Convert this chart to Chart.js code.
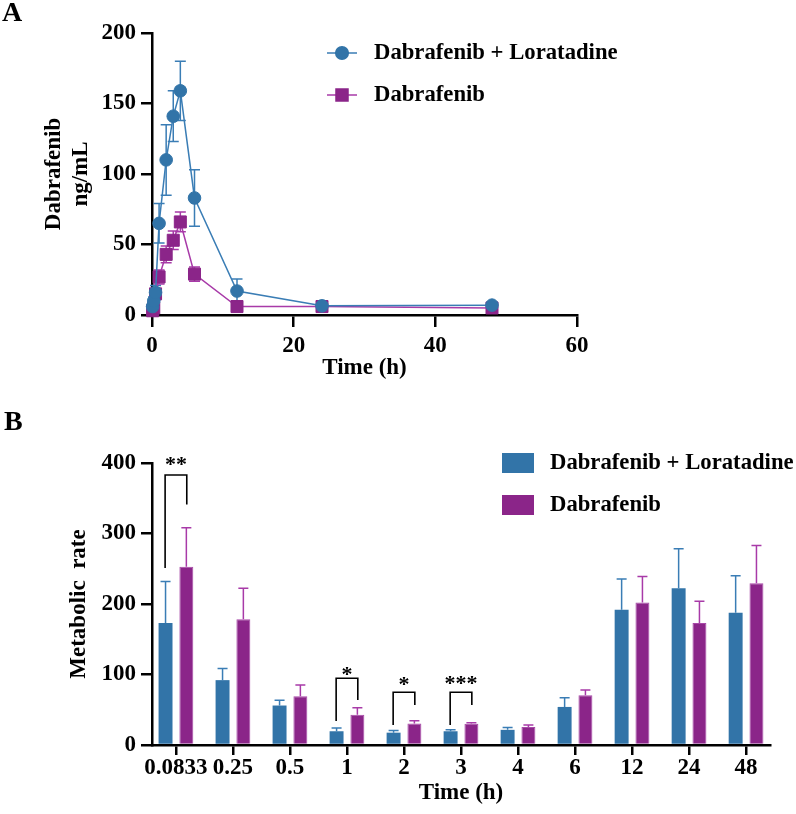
<!DOCTYPE html>
<html><head><meta charset="utf-8">
<script src="https://cdn.jsdelivr.net/npm/chart.js@4.4.0/dist/chart.umd.min.js"></script>
<style>
html,body{margin:0;padding:0;background:#fff;}
#wrap{position:relative;width:796px;height:814px;overflow:hidden;background:#fff;}
canvas{position:absolute;left:0;}
.panel{position:absolute;font-family:"Liberation Serif","DejaVu Serif",serif;font-weight:bold;font-size:28px;line-height:28px;color:#000;}
</style></head><body>
<div id="wrap">
<canvas id="c1" width="796" height="390" style="top:0"></canvas>
<canvas id="c2" width="796" height="424" style="top:390px"></canvas>
<div class="panel" style="left:2px;top:-2px">A</div>
<div class="panel" style="left:4px;top:407px">B</div>
</div>
<script>
// ---- Panel A data (time course) ----
const timesA = [0.0833, 0.25, 0.5, 1, 2, 3, 4, 6, 12, 24, 48];
const comboMean = [6, 10, 16, 65, 110, 141, 159, 83, 17, 6.5, 7];
const comboSD   = [2, 3, 5, 14, 25, 18, 21, 20, 8.5, 1, 1];
const monoMean  = [3, 5, 15, 27, 43, 53, 66, 29, 6, 6, 5];
const monoSD    = [1, 2, 3, 5, 6, 6.5, 7, 5, 1, 1, 1];
const xTicksA = [0, 20, 40, 60];
const yTicksA = [0, 50, 100, 150, 200];

// ---- Panel B data (metabolic rate) ----
const catLabels  = ['0.0833', '0.25', '0.5', '1', '2', '3', '4', '6', '12', '24', '48'];
const comboRate   = [173, 92, 56, 19.5, 17.5, 19.5, 21.5, 54, 192, 222.5, 187.5];
const comboRateSD = [59, 16.5, 7.5, 4.5, 3, 2, 3.5, 13, 43.5, 56, 52.5];
const monoRate    = [253, 178.5, 69, 43, 30.5, 30, 25.5, 70.5, 202, 173, 229.5];
const monoRateSD  = [55, 44, 16, 10, 4, 1.5, 3, 7.5, 37, 31, 53.5];
const yTicksB = [0, 100, 200, 300, 400];

// significance brackets
const sigIndex    = [0, 3, 4, 5];
const sigText     = ['**', '*', '*', '***'];
const sigTop      = [383, 94.7, 74.8, 74.8];
const sigLeftEnd  = [251, 34, 28.4, 28.4];
const sigRightEnd = [341, 64, 56.8, 56.8];
const sigTextY    = [402, 104, 90, 92];

const seriesNames = ['Dabrafenib + Loratadine', 'Dabrafenib'];

const FAM = '"Liberation Serif", "DejaVu Serif", serif';
const tickFont = {family: FAM, size: 23, weight: 'bold', lineHeight: 1.05};
const BLUE = '#3274a8', BLUE_L = '#3a7db5', PURP = '#8b2589', PURP_L = '#a83aa8';

const axisCommon = (tickLen) => ({
  grid: {display: true, drawOnChartArea: false, drawTicks: true, tickLength: tickLen, color: '#000', lineWidth: 2.5, offset: false},
  border: {display: true, color: '#000', width: 2.5}
});

// error bars for line chart (both directions)
const lineErr = {
  id: 'lineErr',
  beforeDatasetsDraw(chart) {
    const ctx = chart.ctx, ys = chart.scales.y;
    chart.data.datasets.forEach((ds, di) => {
      const meta = chart.getDatasetMeta(di);
      ctx.save();
      ctx.strokeStyle = ds.errColor; ctx.lineWidth = 1.5;
      meta.data.forEach((pt, i) => {
        const v = ds.data[i].y, e = ds.sd[i];
        const t = ys.getPixelForValue(v + e), b = ys.getPixelForValue(v - e);
        ctx.beginPath();
        ctx.moveTo(pt.x, t); ctx.lineTo(pt.x, b);
        ctx.moveTo(pt.x - 5.5, t); ctx.lineTo(pt.x + 5.5, t);
        ctx.moveTo(pt.x - 5.5, b); ctx.lineTo(pt.x + 5.5, b);
        ctx.stroke();
      });
      ctx.restore();
    });
  }
};
const legendLine = {
  id: 'legendLine',
  afterDraw(chart) {
    const ctx = chart.ctx;
    const rows = [53, 95];
    chart.data.datasets.forEach((ds, i) => {
      const y = rows[i];
      ctx.save();
      ctx.strokeStyle = ds.borderColor; ctx.lineWidth = 1.5;
      ctx.beginPath(); ctx.moveTo(327, y); ctx.lineTo(357, y); ctx.stroke();
      ctx.fillStyle = ds.pointBackgroundColor; ctx.strokeStyle = ds.pointBackgroundColor;
      Chart.helpers.drawPoint(ctx, {pointStyle: ds.pointStyle, radius: ds.pointRadius, borderWidth: 1, rotation: 0}, 342, y);
      ctx.fillStyle = '#000';
      ctx.font = 'bold 22.7px ' + FAM;
      ctx.textBaseline = 'middle'; ctx.textAlign = 'left';
      ctx.fillText(ds.label, 374, y);
      ctx.restore();
    });
  }
};

new Chart(document.getElementById('c1'), {
  type: 'line',
  data: {
    datasets: [
      {label: seriesNames[0], data: timesA.map((t, i) => ({x: t, y: comboMean[i]})), sd: comboSD,
       borderColor: BLUE_L, backgroundColor: BLUE, pointBackgroundColor: BLUE, pointBorderColor: BLUE,
       pointStyle: 'circle', pointRadius: 6.3, pointBorderWidth: 1, borderWidth: 1.5, errColor: BLUE_L, clip: false},
      {label: seriesNames[1], data: timesA.map((t, i) => ({x: t, y: monoMean[i]})), sd: monoSD,
       borderColor: PURP_L, backgroundColor: PURP, pointBackgroundColor: PURP, pointBorderColor: PURP,
       pointStyle: 'rect', pointRadius: 8.5, pointBorderWidth: 1, borderWidth: 1.5, errColor: PURP_L, clip: false}
    ]
  },
  options: {
    responsive: false, animation: false,
    layout: {padding: {left: 0, right: 219, top: 33, bottom: 0}},
    plugins: {legend: {display: false}, tooltip: {enabled: false}},
    scales: {
      x: {type: 'linear', min: xTicksA[0], max: xTicksA[xTicksA.length - 1], ...axisCommon(12),
          afterBuildTicks: s => { s.ticks = xTicksA.map(v => ({value: v})); },
          ticks: {font: tickFont, color: '#000', padding: 7, maxRotation: 0},
          title: {display: true, text: 'Time (h)', font: tickFont, color: '#000', padding: {top: 0, bottom: 10}},
          afterFit: s => { s.height = 75; }},
      y: {min: yTicksA[0], max: yTicksA[yTicksA.length - 1], ...axisCommon(11),
          afterBuildTicks: s => { s.ticks = yTicksA.map(v => ({value: v})); },
          ticks: {font: tickFont, color: '#000', padding: 5},
          title: {display: true, text: ['Dabrafenib', 'ng/mL'], font: {family: FAM, size: 23, weight: 'bold', lineHeight: 1.2}, color: '#000', padding: {top: 40, bottom: 0}},
          afterFit: s => { s.width = 152; }}
    }
  },
  plugins: [lineErr, legendLine]
});

// error bars for bars (upward only)
const barErr = {
  id: 'barErr',
  afterDatasetsDraw(chart) {
    const ctx = chart.ctx, ys = chart.scales.y;
    chart.data.datasets.forEach((ds, di) => {
      const meta = chart.getDatasetMeta(di);
      ctx.save();
      ctx.strokeStyle = ds.errColor; ctx.lineWidth = 1.5;
      meta.data.forEach((bar, i) => {
        const v = ds.data[i].y, e = ds.sd[i];
        const b = ys.getPixelForValue(v), t = ys.getPixelForValue(v + e);
        ctx.beginPath();
        ctx.moveTo(bar.x, b); ctx.lineTo(bar.x, t);
        ctx.moveTo(bar.x - 5, t); ctx.lineTo(bar.x + 5, t);
        ctx.stroke();
      });
      ctx.restore();
    });
  }
};
const sigPlugin = {
  id: 'sig',
  afterDraw(chart) {
    const ctx = chart.ctx, xs = chart.scales.x, ys = chart.scales.y;
    ctx.save();
    ctx.strokeStyle = '#000'; ctx.lineWidth = 1.6; ctx.fillStyle = '#000';
    ctx.font = 'bold 22px ' + FAM; ctx.textAlign = 'center'; ctx.textBaseline = 'middle';
    sigIndex.forEach((ci, k) => {
      const xl = xs.getPixelForValue(ci - 0.19), xr = xs.getPixelForValue(ci + 0.19);
      const yt = ys.getPixelForValue(sigTop[k]);
      ctx.beginPath();
      ctx.moveTo(xl, ys.getPixelForValue(sigLeftEnd[k]));
      ctx.lineTo(xl, yt); ctx.lineTo(xr, yt);
      ctx.lineTo(xr, ys.getPixelForValue(sigRightEnd[k]));
      ctx.stroke();
      ctx.fillText(sigText[k], xs.getPixelForValue(ci), ys.getPixelForValue(sigTextY[k]) + 4);
    });
    ctx.restore();
  }
};
const legendBar = {
  id: 'legendBar',
  afterDraw(chart) {
    const ctx = chart.ctx;
    const rows = [73, 115];
    chart.data.datasets.forEach((ds, i) => {
      const y = rows[i];
      ctx.save();
      ctx.fillStyle = ds.backgroundColor;
      ctx.fillRect(502, y - 10, 32, 20);
      ctx.fillStyle = '#000';
      ctx.font = 'bold 22.7px ' + FAM;
      ctx.textBaseline = 'middle'; ctx.textAlign = 'left';
      ctx.fillText(ds.label, 550, y);
      ctx.restore();
    });
  }
};

new Chart(document.getElementById('c2'), {
  type: 'bar',
  data: {
    datasets: [
      {label: seriesNames[0], data: comboRate.map((v, i) => ({x: i, y: v})), sd: comboRateSD,
       backgroundColor: BLUE, borderWidth: 0, errColor: BLUE_L},
      {label: seriesNames[1], data: monoRate.map((v, i) => ({x: i, y: v})), sd: monoRateSD,
       backgroundColor: PURP, borderColor: '#a848a8', borderWidth: 1, errColor: PURP_L}
    ]
  },
  options: {
    responsive: false, animation: false,
    categoryPercentage: 0.73, barPercentage: 0.67,
    layout: {padding: {left: 0, right: 26, top: 73, bottom: 0}},
    plugins: {legend: {display: false}, tooltip: {enabled: false}},
    scales: {
      x: {type: 'linear', min: -0.42, max: catLabels.length - 1 + 0.42, offset: false, ...axisCommon(10),
          afterBuildTicks: s => { s.ticks = catLabels.map((_, i) => ({value: i})); },
          ticks: {font: tickFont, color: '#000', padding: 1, autoSkip: false, maxRotation: 0, minRotation: 0,
                  callback: v => catLabels[v]},
          title: {display: true, text: 'Time (h)', font: tickFont, color: '#000', padding: {top: 0, bottom: 9}},
          afterFit: s => { s.height = 69; }},
      y: {min: yTicksB[0], max: yTicksB[yTicksB.length - 1], ...axisCommon(11),
          afterBuildTicks: s => { s.ticks = yTicksB.map(v => ({value: v})); },
          ticks: {font: tickFont, color: '#000', padding: 5},
          title: {display: true, text: 'Metabolic  rate', font: tickFont, color: '#000', padding: {top: 67, bottom: 0}},
          afterFit: s => { s.width = 152; }}
    }
  },
  plugins: [barErr, sigPlugin, legendBar]
});
</script>
</body></html>
